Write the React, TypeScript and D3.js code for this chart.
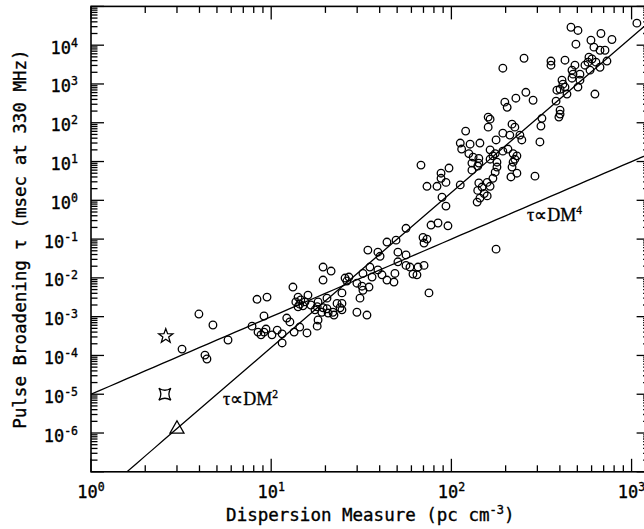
import React from 'react';
import * as d3 from 'd3';

// Pulsar measurements: [DM (pc cm^-3), tau (msec at 330 MHz)]
const pulsarPoints: [number, number][] = [
  [3.2, 1.46e-4], [3.97, 1.17e-3], [4.75, 6.1e-4], [4.29, 1.02e-4], [4.4, 8.1e-5], [5.76, 2.5e-4],
  [7.83, 5.7e-4], [8.34, 2.8e-3], [9.48, 3.2e-3], [9.12, 1.04e-3], [8.45, 4.0e-4], [8.78, 3.4e-4],
  [9.12, 4.0e-4], [9.36, 4.8e-4], [10.1, 3.4e-4], [10.8, 4.5e-4], [11.5, 3.6e-4], [11.5, 2.1e-4],
  [12.2, 9.2e-4], [12.7, 7.3e-4], [13.2, 5.8e-3], [13.4, 4.0e-4], [14.4, 5.4e-4], [14.1, 3.2e-3],
  [16.0, 3.6e-3], [13.7, 2.4e-3], [14.4, 2.1e-3], [15.0, 1.9e-3], [14.1, 1.8e-3], [15.4, 2.4e-3],
  [14.6, 2.7e-3],
  [15.8, 3.8e-4], [16.6, 2.0e-3], [17.5, 1.5e-3], [18.0, 1.8e-3], [18.2, 2.4e-3], [18.2, 8.2e-4],
  [18.0, 5.7e-4], [19.4, 1.7e-3], [20.4, 1.6e-3], [20.4, 3.0e-3], [19.1, 1.3e-3], [20.7, 1.24e-3],
  [22.0, 1.3e-3], [22.3, 1.1e-3], [23.2, 2.2e-3], [24.1, 1.7e-3], [24.7, 2.2e-3], [24.7, 4.1e-3],
  [24.7, 1.5e-3], [19.4, 1.9e-2], [21.5, 1.5e-2], [19.4, 8.8e-3], [25.7, 9.9e-3], [27.0, 1.05e-2],
  [26.3, 8.3e-3], [29.9, 7.3e-3], [31.9, 6.1e-3], [34.9, 5.8e-3], [32.3, 4.8e-3], [31.1, 3.0e-3],
  [29.9, 1.3e-3], [34.0, 1.1e-3],
  [34.4, 5.2e-2], [39.1, 4.6e-2], [40.2, 3.6e-2], [43.9, 8.4e-2], [49.3, 9.4e-2], [50.5, 4.6e-2],
  [56.0, 3.9e-2], [50.5, 2.6e-2], [56.0, 2.1e-2], [58.9, 1.9e-2], [61.2, 1.25e-2], [65.3, 1.9e-2],
  [70.5, 2.1e-2], [64.4, 1.2e-2], [35.3, 1.9e-2], [39.1, 1.6e-2], [36.3, 1.05e-2], [32.3, 1.3e-2],
  [41.2, 1.2e-2], [43.9, 8.8e-3], [48.6, 1.3e-2], [48.0, 7.8e-3], [75.1, 4.1e-3], [56.0, 0.19],
  [69.6, 0.11], [73.2, 0.1], [70.5, 7.9e-2], [77.1, 0.23], [84.3, 0.26], [95.7, 0.22],
  [88.7, 1.2], [93.3, 0.71], [73.2, 2.3], [83.2, 2.3], [93.3, 2.9], [112, 2.5], [67.8, 8.1],
  [87.6, 5.0], [97.0, 6.8], [87.6, 3.7],
  [114, 21], [125, 16], [132, 13], [142, 12], [142, 9.1], [130, 9.1], [140, 7.6], [130, 6.0],
  [164, 20], [175, 16], [170, 14], [164, 11.5], [193, 18.5], [206, 21], [220, 16], [231, 14],
  [225, 11.5], [220, 9.6], [179, 9.6], [179, 7.2], [175, 5.3], [170, 3.7], [158, 2.9], [142, 2.8],
  [140, 1.8], [148, 2.2], [164, 2.3], [152, 1.5], [158, 1.3], [144, 1.14], [139, 0.9], [217, 7.2],
  [231, 5.0], [214, 4.0], [291, 4.2], [177, 0.055],
  [198, 340], [204, 250], [228, 430], [259, 610], [284, 380], [160, 140], [164, 124], [160, 77],
  [120, 61], [217, 92], [225, 77], [193, 54], [211, 48], [240, 48], [246, 36], [310, 32],
  [112, 30], [127, 28], [144, 30], [177, 36], [318, 130], [314, 82],
  [193, 2550], [253, 4600], [357, 3900], [357, 3050], [427, 4100], [485, 3050], [461, 29000],
  [504, 24000], [491, 10600], [676, 20000], [778, 14000], [595, 13400], [618, 8900], [668, 7400],
  [712, 7400], [580, 4900], [603, 4400], [573, 3650], [634, 3650], [730, 3900], [668, 2700],
  [551, 3050], [588, 2270], [467, 2270], [473, 1790], [517, 1790], [467, 1410], [517, 1250],
  [504, 830], [411, 1250], [416, 990], [401, 730], [427, 830], [438, 550], [385, 690], [626, 550],
  [381, 360], [401, 210], [401, 167], [395, 140], [1070, 37000],
];

// Special objects
const specialDM = [2.6, 2.57, 3.0];
const specialTau = [3.3e-4, 1.0e-5, 1.33e-6];
const specialShapes = ['star', 'squareStar', 'triangle'];

// Power laws tau = coef * DM^exp
const lawCoef = [1e-5, 1.6e-8];
const lawExp = [2, 4];

// Annotations
const annotDM = [5.4, 263];
const annotTau = [5.3e-6, 0.29];
const annotBase = ['τ∝DM', 'τ∝DM'];
const annotSup = ['2', '4'];

const xTickExps = [0, 1, 2, 3];
const yTickExps = [-6, -5, -4, -3, -2, -1, 0, 1, 2, 3, 4];

const W = 644;
const H = 529;
const MONO = '"DejaVu Sans Mono", monospace';

export default function App() {
  const x = d3.scaleLog().domain([1, Math.pow(10, 3.1)]).range([91, 649.6]);
  const y = d3.scaleLog().domain([1e-7, 1e5]).range([471.8, 6.4]);
  const [x0, x1] = x.range();
  const [y0, y1] = y.range();

  const xMinor: number[] = [];
  for (let d = 0; d <= 3; d++) for (let k = 2; k <= 9; k++) {
    const v = k * Math.pow(10, d);
    if (v <= x.domain()[1]) xMinor.push(v);
  }
  const yMinor: number[] = [];
  for (let d = -7; d < 5; d++) for (let k = 2; k <= 9; k++) yMinor.push(k * Math.pow(10, d));
  const xMajor = [0, 1, 2, 3].map((e) => Math.pow(10, e));
  const yMajor = d3.range(-7, 6).map((e) => Math.pow(10, e));

  const MAJ = 13;
  const MIN = 6.5;

  const lawPaths = lawCoef.map((c, i) => {
    const pts = d3.range(0, 3.11, 0.05).map((l) => {
      const dm = Math.pow(10, l);
      return [dm, c * Math.pow(dm, lawExp[i])];
    });
    return d3.line<number[]>().x((d) => x(d[0])).y((d) => y(d[1]))(pts) as string;
  });

  const starPath = (() => {
    const pts: [number, number][] = [];
    for (let i = 0; i < 10; i++) {
      const r = i % 2 === 0 ? 7.5 : 3.1;
      const a = -Math.PI / 2 + (i * Math.PI) / 5;
      pts.push([r * Math.cos(a), r * Math.sin(a) + 0.8]);
    }
    return 'M' + pts.map((p) => p.join(',')).join('L') + 'Z';
  })();
  const squareStarPath = 'M-6,-6 Q0,-2 6,-6 Q2,0 6,6 Q0,2 -6,6 Q-2,0 -6,-6 Z';
  const triPath = 'M0,-7.5 L7,5 L-7,5 Z';
  const shapePath: Record<string, string> = { star: starPath, squareStar: squareStarPath, triangle: triPath };

  const textStroke = { stroke: '#000', strokeWidth: 0.35 };

  return (
    <svg width={W} height={H} style={{ position: 'absolute', left: 0, top: 0, background: '#fff' }}>
      <defs>
        <clipPath id="plotClip">
          <rect x={x0} y={y1} width={x1 - x0} height={y0 - y1} />
        </clipPath>
      </defs>
      <rect x={0} y={0} width={W} height={H} fill="#fff" />

      {/* power law lines */}
      <g clipPath="url(#plotClip)">
        {lawPaths.map((p, i) => (
          <path key={i} d={p} fill="none" stroke="#000" strokeWidth={1.3} />
        ))}
      </g>

      {/* data points */}
      <g clipPath="url(#plotClip)">
        {pulsarPoints.map((d, i) => (
          <circle key={i} cx={x(d[0])} cy={y(d[1])} r={3.8} fill="none" stroke="#000" strokeWidth={1.3} />
        ))}
        {specialDM.map((dm, i) => (
          <path key={'s' + i} transform={`translate(${x(dm)},${y(specialTau[i])})`} d={shapePath[specialShapes[i]]}
            fill="none" stroke="#000" strokeWidth={1.3} strokeLinejoin="miter" />
        ))}
      </g>

      {/* frame */}
      <rect x={x0} y={y1} width={x1 - x0} height={y0 - y1} fill="none" stroke="#000" strokeWidth={1.6} />

      {/* ticks */}
      <g stroke="#000" strokeWidth={1.3}>
        {xMajor.map((v, i) => (
          <g key={'xM' + i}>
            <line x1={x(v)} x2={x(v)} y1={y0} y2={y0 - MAJ} />
            <line x1={x(v)} x2={x(v)} y1={y1} y2={y1 + MAJ} />
          </g>
        ))}
        {xMinor.map((v, i) => (
          <g key={'xm' + i}>
            <line x1={x(v)} x2={x(v)} y1={y0} y2={y0 - MIN} />
            <line x1={x(v)} x2={x(v)} y1={y1} y2={y1 + MIN} />
          </g>
        ))}
        {yMajor.map((v, i) => (
          <g key={'yM' + i}>
            <line x1={x0} x2={x0 + MAJ} y1={y(v)} y2={y(v)} />
            <line x1={x1} x2={x1 - MAJ} y1={y(v)} y2={y(v)} />
          </g>
        ))}
        {yMinor.map((v, i) => (
          <g key={'ym' + i}>
            <line x1={x0} x2={x0 + MIN} y1={y(v)} y2={y(v)} />
            <line x1={x1} x2={x1 - MIN} y1={y(v)} y2={y(v)} />
          </g>
        ))}
      </g>

      {/* tick labels */}
      <g fontFamily={MONO} fill="#000" {...textStroke}>
        {xTickExps.map((e) => (
          <text key={'xl' + e} x={x(Math.pow(10, e))} y={498} textAnchor="middle" fontSize={17}>
            10<tspan dy={-7} fontSize={11.5}>{e}</tspan>
          </text>
        ))}
        {yTickExps.map((e) => (
          <text key={'yl' + e} x={78} y={y(Math.pow(10, e)) + 8.5} textAnchor="end" fontSize={17}>
            10<tspan dy={-7} fontSize={11.5}>{e < 0 ? '-' + Math.abs(e) : e}</tspan>
          </text>
        ))}
      </g>

      {/* axis titles */}
      <text x={(x0 + x1) / 2} y={521} textAnchor="middle" fontFamily={MONO} fontSize={17.5} fill="#000" {...textStroke}>
        Dispersion Measure (pc cm<tspan dy={-7} fontSize={12}>-3</tspan><tspan dy={7}>)</tspan>
      </text>
      <text transform={`translate(26,${(y0 + y1) / 2}) rotate(-90)`} textAnchor="middle" fontFamily={MONO}
        fontSize={17.5} fill="#000" {...textStroke}>
        Pulse Broadening τ (msec at 330 MHz)
      </text>

      {/* annotations */}
      {annotDM.map((dm, i) => (
        <text key={'a' + i} x={x(dm)} y={y(annotTau[i])} fontFamily='"Liberation Serif", serif' fontSize={18}
          fill="#000" {...textStroke}>
          {annotBase[i]}<tspan dy={-7} fontSize={11.5}>{annotSup[i]}</tspan>
        </text>
      ))}
    </svg>
  );
}
